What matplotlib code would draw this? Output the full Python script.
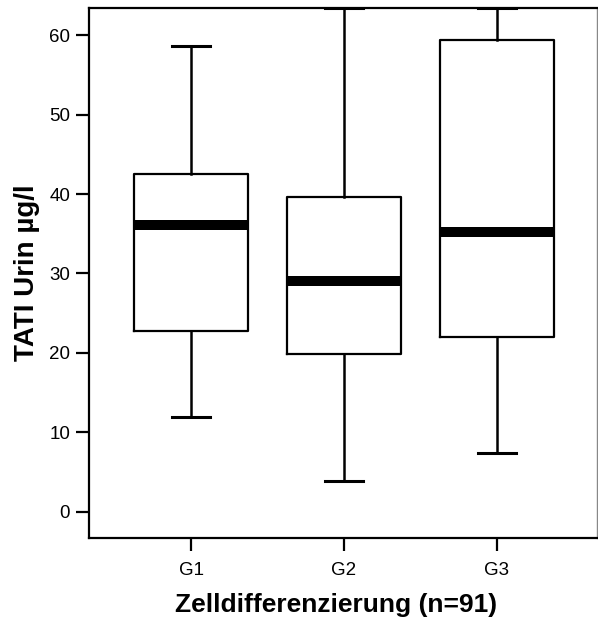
import matplotlib
matplotlib.use('Agg')
import matplotlib.pyplot as plt
from matplotlib import font_manager

plt.rc('font', family=['Liberation Sans', 'DejaVu Sans'])

# Box statistics
groups = ['G1', 'G2', 'G3']
whislo = [11.9, 3.9, 7.4]
q1 = [22.7, 19.9, 22.0]
med = [36.1, 29.0, 35.2]
q3 = [42.5, 39.6, 59.4]
whishi = [58.7, 63.4, 63.4]

stats = []
for i in range(len(groups)):
    stats.append({'label': groups[i], 'whislo': whislo[i], 'q1': q1[i],
                  'med': med[i], 'q3': q3[i], 'whishi': whishi[i], 'fliers': []})

xlab_font = font_manager.FontProperties(family=['Liberation Sans', 'DejaVu Sans'],
                                        weight='bold', size=19)
ylab_font = font_manager.FontProperties(family=['Liberation Sans', 'DejaVu Sans'],
                                        weight='bold', size=20)

fig = plt.figure(figsize=(5.98, 6.23), dpi=100)
ax = fig.add_axes([0.1488, 0.1364, 0.8495, 0.8503])

ax.bxp(stats, positions=[1, 2, 3], widths=0.75, showfliers=False,
       boxprops=dict(color='black', linewidth=1.6),
       whiskerprops=dict(color='black', linewidth=1.8),
       capprops=dict(color='black', linewidth=2.2),
       medianprops=dict(color='black', linewidth=7.2, solid_capstyle='butt'),
       capwidths=0.25)

ax.set_xlim(0.333, 3.654)
ax.set_ylim(-3.33, 63.4)
ax.set_yticks([0, 10, 20, 30, 40, 50, 60])
ax.set_xticks([1, 2, 3])
ax.set_xticklabels(groups)

for s in ['left', 'bottom', 'top']:
    ax.spines[s].set_linewidth(1.6)
    ax.spines[s].set_color('black')
ax.spines['right'].set_linewidth(1.0)
ax.spines['right'].set_color('#888888')

ax.tick_params(axis='both', direction='out', length=9.5, width=1.6, labelsize=13.5)
ax.tick_params(axis='y', pad=4)
ax.tick_params(axis='x', pad=8)

ax.set_xlabel('Zelldifferenzierung (n=91)', fontproperties=xlab_font, labelpad=10)
ax.xaxis.label.set_x(0.487)
ax.set_ylabel('TATI Urin µg/l', fontproperties=ylab_font, labelpad=6.5)

plt.savefig('out.png', dpi=100)
